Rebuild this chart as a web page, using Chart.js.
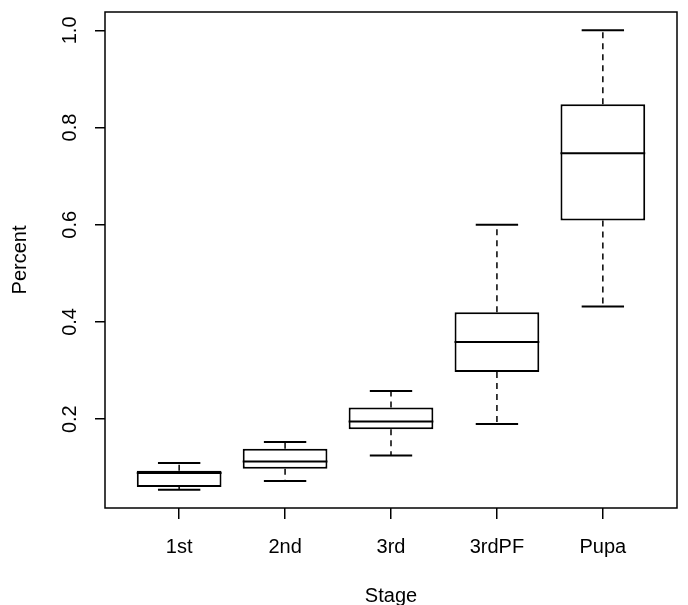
<!DOCTYPE html>
<html>
<head>
<meta charset="utf-8">
<script src="https://cdn.jsdelivr.net/npm/chart.js@4/dist/chart.umd.min.js"></script>
<style>
  body { margin: 0; background: #fff; }
  #wrap { width: 688px; height: 605px; }
</style>
</head>
<body>
<div id="wrap"><canvas id="chart" width="688" height="605"></canvas></div>
<script>
// values
var stages = ["1st", "2nd", "3rd", "3rdPF", "Pupa"];
var lowWhisker = [0.055, 0.073, 0.125, 0.190, 0.432];
var lowerQuartile = [0.0605, 0.098, 0.179, 0.297, 0.609];
var medians = [0.089, 0.113, 0.195, 0.359, 0.747];
var upperQuartile = [0.094, 0.139, 0.224, 0.420, 0.848];
var highWhisker = [0.110, 0.153, 0.258, 0.600, 1.000];
var yTicks = [0.2, 0.4, 0.6, 0.8, 1.0];

var FONT = "'Liberation Sans', Arial, sans-serif";

// R style range: data span padded by 4%
var dataMin = Math.min.apply(null, lowWhisker);
var dataMax = Math.max.apply(null, highWhisker);
var pad = (dataMax - dataMin) * 0.04;

function line(ctx, x1, y1, x2, y2) {
  ctx.beginPath();
  ctx.moveTo(x1, y1);
  ctx.lineTo(x2, y2);
  ctx.stroke();
}

const boxExtras = {
  id: "boxExtras",
  afterDatasetsDraw(chart) {
    let ctx = chart.ctx;
    let x = chart.scales.x, y = chart.scales.y;
    let unit = x.getPixelForValue(2) - x.getPixelForValue(1);
    ctx.save();
    ctx.strokeStyle = "#000";
    for (let i = 0; i < stages.length; i++) {
      let cx = x.getPixelForValue(i + 1);
      // median
      ctx.setLineDash([]);
      ctx.lineWidth = 2;
      let my = y.getPixelForValue(medians[i]);
      line(ctx, cx - unit * 0.4, my, cx + unit * 0.4, my);
      // whiskers
      ctx.lineWidth = 1.5;
      ctx.setLineDash([6, 5]);
      line(ctx, cx, y.getPixelForValue(upperQuartile[i]), cx, y.getPixelForValue(highWhisker[i]));
      line(ctx, cx, y.getPixelForValue(lowerQuartile[i]), cx, y.getPixelForValue(lowWhisker[i]));
      // staples
      ctx.setLineDash([]);
      ctx.lineWidth = 2;
      let hy = y.getPixelForValue(highWhisker[i]);
      let ly = y.getPixelForValue(lowWhisker[i]);
      line(ctx, cx - unit * 0.2, hy, cx + unit * 0.2, hy);
      line(ctx, cx - unit * 0.2, ly, cx + unit * 0.2, ly);
    }
    // plot frame
    let a = chart.chartArea;
    ctx.lineWidth = 1.5;
    ctx.strokeRect(a.left, a.top, a.right - a.left, a.bottom - a.top);
    // vertical y tick labels
    ctx.fillStyle = "#000";
    ctx.font = "20px " + FONT;
    ctx.textAlign = "center";
    ctx.textBaseline = "middle";
    y.ticks.forEach(function(t) {
      ctx.save();
      ctx.translate(70, y.getPixelForValue(t.value));
      ctx.rotate(-Math.PI / 2);
      ctx.fillText(t.value.toFixed(1), 0, 0);
      ctx.restore();
    });
    ctx.restore();
  }
};

var ctx = document.getElementById("chart").getContext("2d");
const chart = new Chart(ctx, {
  type: "bar",
  data: {
    datasets: [{
      data: stages.map(function(s, i) { return { x: i + 1, y: [lowerQuartile[i], upperQuartile[i]] }; }),
      backgroundColor: "#fff",
      borderColor: "#000",
      borderWidth: 2,
      borderSkipped: false,
      barPercentage: 0.8,
      categoryPercentage: 1
    }]
  },
  options: {
    responsive: false,
    animation: false,
    layout: { padding: { top: 12, right: 11, left: 0, bottom: 0 } },
    plugins: { legend: { display: false }, tooltip: { enabled: false } },
    scales: {
      x: {
        type: "linear",
        min: 0.3,
        max: 5.7,
        offset: false,
        afterBuildTicks: function(scale) {
          scale.ticks = stages.map(function(s, i) { return { value: i + 1 }; });
        },
        afterFit: function(scale) { scale.height = 97; },
        ticks: {
          color: "#000",
          font: { family: FONT, size: 20 },
          padding: 16,
          maxRotation: 0,
          callback: function(v) { return stages[v - 1]; }
        },
        grid: { offset: false, drawOnChartArea: false, color: "#000", lineWidth: 1.5, tickLength: 11 },
        border: { display: false },
        title: { display: true, text: "Stage", color: "#000", font: { family: FONT, size: 20 }, padding: { top: 0, bottom: -3 } }
      },
      y: {
        min: dataMin - pad,
        max: dataMax + pad,
        afterBuildTicks: function(scale) {
          scale.ticks = yTicks.map(function(v) { return { value: v }; });
        },
        afterFit: function(scale) { scale.width = 105; },
        ticks: { display: false },
        grid: { drawOnChartArea: false, color: "#000", lineWidth: 1.5, tickLength: 10 },
        border: { display: false },
        title: { display: true, text: "Percent", color: "#000", font: { family: FONT, size: 20 }, padding: { top: 8, bottom: 0 } }
      }
    }
  },
  plugins: [boxExtras]
});
</script>
</body>
</html>
